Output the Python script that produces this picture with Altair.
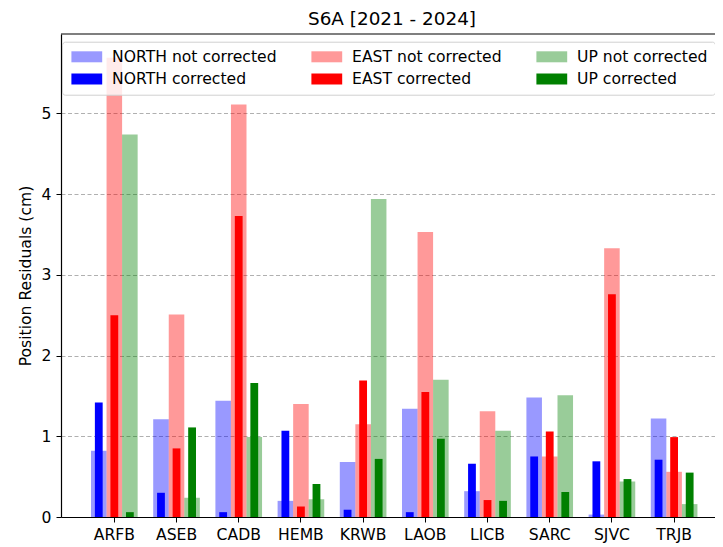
import altair as alt
import pandas as pd

stations = ["ARFB", "ASEB", "CADB", "HEMB", "KRWB", "LAOB", "LICB", "SARC", "SJVC", "TRJB"]
components = ["NORTH", "EAST", "UP"]

north_nc = [0.82, 1.21, 1.44, 0.20, 0.68, 1.34, 0.32, 1.48, 0.03, 1.22]
north_c = [1.42, 0.30, 0.06, 1.07, 0.09, 0.06, 0.66, 0.75, 0.69, 0.71]
east_nc = [5.69, 2.51, 5.11, 1.40, 1.15, 3.53, 1.31, 0.75, 3.33, 0.56]
east_c = [2.50, 0.85, 3.73, 0.13, 1.69, 1.55, 0.21, 1.06, 2.76, 0.99]
up_nc = [4.74, 0.24, 0.99, 0.22, 3.94, 1.70, 1.07, 1.51, 0.44, 0.16]
up_c = [0.06, 1.11, 1.66, 0.41, 0.72, 0.97, 0.20, 0.31, 0.47, 0.55]

# legend order (column-major, 2 rows x 3 columns)
series_order = ["NORTH not corrected", "NORTH corrected",
                "EAST not corrected", "EAST corrected",
                "UP not corrected", "UP corrected"]
series_colors = ["rgba(0,0,255,0.4)", "#0000ff",
                 "rgba(255,0,0,0.4)", "#ff0000",
                 "rgba(0,128,0,0.4)", "#008000"]

comp_data = {"NORTH": (north_nc, north_c), "EAST": (east_nc, east_c), "UP": (up_nc, up_c)}
rows = []
for i, s in enumerate(stations):
    for comp in components:
        nc, c = comp_data[comp]
        rows.append({"station": s, "comp": comp, "status": "not corrected",
                     "value": nc[i], "series": comp + " not corrected"})
        rows.append({"station": s, "comp": comp, "status": "corrected",
                     "value": c[i], "series": comp + " corrected"})
df = pd.DataFrame(rows)

FONT = "DejaVu Sans"
FS = 15.6

x = alt.X("station:N", sort=stations,
          scale=alt.Scale(paddingInner=0.25, paddingOuter=0.4466, align=0.54),
          axis=alt.Axis(title=None, labelAngle=0, grid=False, tickSize=5,
                        labelPadding=5, domainWidth=1.2))
xoff = alt.XOffset("comp:N", sort=components,
                   scale=alt.Scale(paddingInner=0, paddingOuter=0))
y = alt.Y("value:Q", scale=alt.Scale(domain=[0, 5.985], nice=False, zero=True),
          axis=alt.Axis(values=[0, 1, 2, 3, 4, 5], title="Position Residuals (cm)",
                        grid=True, gridDash=[4, 2.5], gridColor="#b0b0b0", gridWidth=1,
                        tickSize=5, labelPadding=5, titlePadding=8, domainWidth=1.2))
color = alt.Color("series:N", sort=series_order,
                  scale=alt.Scale(domain=series_order, range=series_colors),
                  legend=alt.Legend(title=None, orient="none", legendX=1, legendY=7.7,
                                    columns=3, symbolType="M-2.8,-1H2.8V1H-2.8Z",
                                    symbolSize=121, symbolOffset=10, symbolStrokeWidth=0,
                                    labelFont=FONT, labelFontSize=FS, labelColor="black",
                                    labelOffset=17.5, labelLimit=400, columnPadding=32,
                                    rowPadding=5.5, padding=7,
                                    fillColor="rgba(255,255,255,0.8)",
                                    strokeColor="#d0d0d0", cornerRadius=3))

base = alt.Chart(df)
light = base.transform_filter(alt.datum.status == "not corrected").mark_bar().encode(
    x=x, xOffset=xoff, y=y, color=color)
dark = base.transform_filter(alt.datum.status == "corrected").mark_bar(width=7.8).encode(
    x=x, xOffset=xoff, y=y, color=color)
frame_top = alt.Chart(pd.DataFrame({"f": [0]})).mark_rule(color="black", strokeWidth=1.2).encode(
    x=alt.value(0), x2=alt.value(662), y=alt.value(0))

chart = alt.layer(light, dark, frame_top).properties(
    width=662, height=483,
    padding={"left": 53, "top": 26, "right": -8, "bottom": 26},
    autosize=alt.AutoSizeParams(type="none"),
    title=alt.Title("S6A [2021 - 2024]", fontSize=18.4, font=FONT, fontWeight="normal",
                    color="black", offset=5, anchor="middle"),
).configure_view(stroke=None).configure_axis(
    domainColor="black", tickColor="black", labelColor="black", titleColor="black",
    labelFont=FONT, titleFont=FONT, labelFontSize=FS, titleFontSize=FS,
    titleFontWeight="normal")

chart.save("out.html", embed_options={"renderer": "svg", "actions": False})
